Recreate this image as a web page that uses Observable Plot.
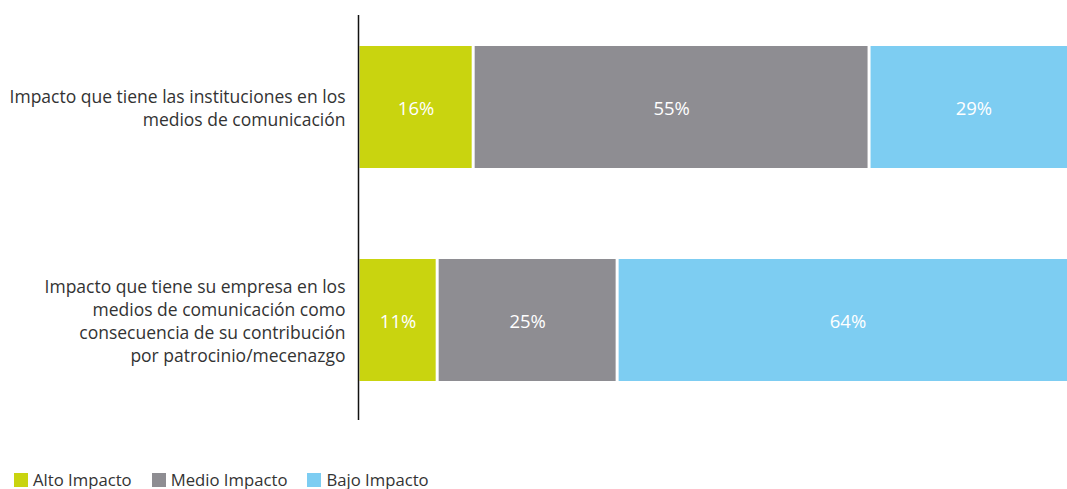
<!DOCTYPE html>
<html><head><meta charset="utf-8">
<script src="https://cdn.jsdelivr.net/npm/d3@7"></script>
<script src="https://cdn.jsdelivr.net/npm/@observablehq/plot@0.6"></script>
<style>
body{margin:0;background:#fff;overflow:hidden;font-family:"Open Sans",sans-serif;}
#legend{margin-left:14px;}
#legend .lg-swatches{min-height:18px;height:18px;font-family:"Open Sans",sans-serif;font-size:16.7px;line-height:18px;color:#333;margin:0;}
#legend .lg-swatch{margin-right:20px;}
#legend .lg-swatch > svg{margin-right:5px;}
</style></head><body><div id="chart"></div><div id="legend"></div>
<script>
const categories = [
  "Impacto que tiene las instituciones en los\nmedios de comunicación",
  "Impacto que tiene su empresa en los\nmedios de comunicación como\nconsecuencia de su contribución\npor patrocinio/mecenazgo"
];
const series = ["Alto Impacto", "Medio Impacto", "Bajo Impacto"];
const alto = [16, 11];
const medio = [55, 25];
const bajo = [29, 64];
const colors = ["#c9d40f", "#8e8d92", "#7dcdf2"];

const values = [alto, medio, bajo];
const data = categories.flatMap((c, i) => series.map((s, j) => ({category: c, series: s, value: values[j][i]})));

const plot = Plot.plot({
  width: 1067, height: 471,
  marginTop: 15, marginBottom: 51, marginLeft: 358, marginRight: 0,
  style: {fontFamily: '"Open Sans", sans-serif', fontSize: "16px", color: "#333", background: "white", overflow: "hidden"},
  x: {domain: [0, 98.5], axis: null},
  y: {domain: categories, paddingInner: 0.427, paddingOuter: 0.164, align: 0.443, label: null},
  color: {domain: series, range: colors},
  marks: [
    Plot.barX(data, Plot.stackX({x: "value", y: "category", fill: "series", order: series, insetLeft: 1.5, insetRight: 1.5})),
    Plot.text(data, Plot.stackX({x: "value", y: "category", z: "series", order: series, text: d => d.value + "%", fill: "white", fontSize: 18.5, dy: 2})),
    Plot.ruleX([0], {stroke: "#111", strokeWidth: 1.5}),
    Plot.axisY({tickSize: 0, tickPadding: 13, lineHeight: 23 / 17.5, fontSize: 17.5, fill: "#333", label: null})
  ]
});
document.getElementById("chart").append(plot);

const legend = Plot.legend({
  color: {domain: series, range: colors},
  legend: "swatches", swatchSize: 14, className: "lg"
});
document.getElementById("legend").append(legend);
</script></body></html>
